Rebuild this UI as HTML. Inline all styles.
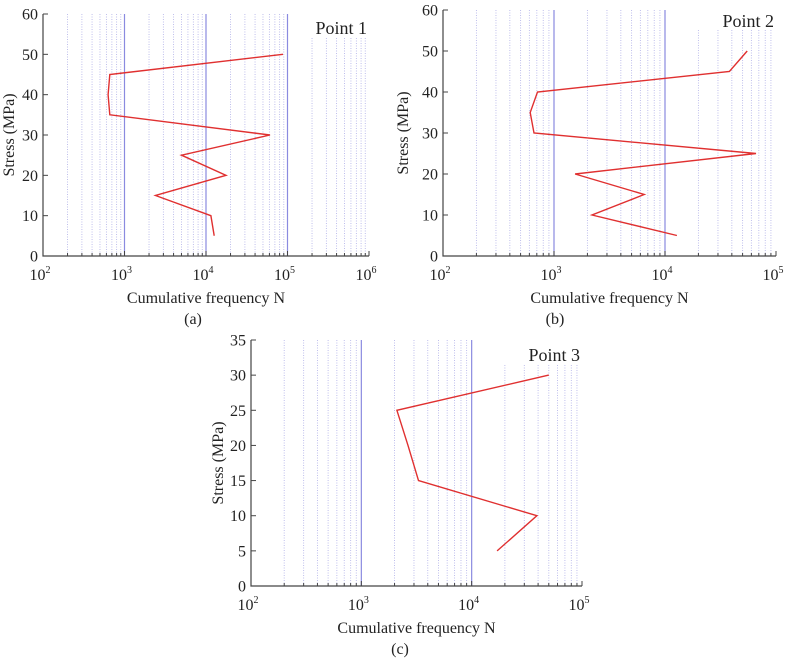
<!DOCTYPE html>
<html><head><meta charset="utf-8"><style>
body{margin:0;background:#fff;}
svg text{font-family:"Liberation Serif",serif;fill:#222;}
</style></head><body>
<svg id="fig" width="788" height="659" xmlns="http://www.w3.org/2000/svg"></svg>
<script>
// Data
const stressA = [50,45,40,35,30,25,20,15,10,5];
const cyclesA = [88000,660,630,660,61000,5000,17600,2400,11500,12600];
const stressB = [50,45,40,35,30,25,20,15,10,5];
const cyclesB = [55000,38000,710,610,660,66000,1550,6500,2200,12800];
const stressC = [30,25,20,15,10,5];
const cyclesC = [50000,2100,2650,3300,39000,17000];
const yTicksA = [0,10,20,30,40,50,60];
const yTicksC = [0,5,10,15,20,25,30,35];

const NS="http://www.w3.org/2000/svg";
const svg=document.getElementById('fig');
function mk(tag,attrs,parent){const e=document.createElementNS(NS,tag);for(const k in attrs)e.setAttribute(k,attrs[k]);(parent||svg).appendChild(e);return e;}

function panel(cfg){
  const g=mk('g',{});
  
  
  const {L,R,T,B,dmin,dmax,ymax,yticks,xs,ys,label,labelBase,shortTop,caption}=cfg;
  const sx=v=>L+(Math.log10(v)-dmin)/(dmax-dmin)*(R-L);
  const sy=v=>B-v/ymax*(B-T);
  for(let d=dmin;d<dmax;d++){
    for(let m=1;m<=9;m++){
      const v=m*Math.pow(10,d);const x=sx(v);
      if(m===1){ if(d===dmin) continue;
        const l=mk('line',{x1:x,x2:x,y1:T,y2:B,stroke:'#8a8ae0','stroke-width':1.2},g);
        
        
      } else {
        const top = (d===dmax-1 && x> cfg.shortX) ? shortTop : T;
        const l=mk('line',{x1:x,x2:x,y1:top,y2:B,stroke:'#b8b8ea','stroke-width':0.9,'stroke-dasharray':'1,1.5'},g);
        
        
      }
      mk('line',{x1:x,x2:x,y1:B,y2:B-(m===1?5:3),stroke:'#444'},g);
    }
  }
  const ax=mk('path',{d:`M${L},${T} L${L},${B} L${R},${B}`,fill:'none',stroke:'#444','stroke-width':1.2},g);
  
  
  mk('line',{x1:R,x2:R,y1:B,y2:B-5,stroke:'#444'},g);
  yticks.forEach(v=>{
    const y=sy(v);
    mk('line',{x1:L,x2:L+5,y1:y,y2:y,stroke:'#444'},g);
    const t=mk('text',{x:L-5,y:y+5.5,'text-anchor':'end','font-size':16},g);
    t.textContent=v;
    
    
  });
  for(let d=dmin;d<=dmax;d++){
    const x=sx(Math.pow(10,d));
    const t=mk('text',{x:x-3,y:B+24,'text-anchor':'middle','font-size':16},g);
    t.innerHTML='10<tspan dy="-7" font-size="10">'+d+'</tspan>';
    
    
  }
  const xt=mk('text',{x:(L+R)/2,y:B+47,'text-anchor':'middle','font-size':16},g);
  xt.textContent='Cumulative frequency N';
  
  
  const ty=(T+B)/2;
  const yt=mk('text',{x:cfg.ytx,y:ty,'text-anchor':'middle','font-size':16,transform:`rotate(-90 ${cfg.ytx} ${ty})`},g);
  yt.textContent='Stress (MPa)';
  
  
  const pl=mk('text',{x:R-2,y:labelBase,'text-anchor':'end','font-size':18},g);
  pl.textContent=label;
  
  
  const cp=mk('text',{x:cfg.capX,y:cfg.capY,'text-anchor':'middle','font-size':16},g);
  cp.textContent=caption;
  
  
  const pts=xs.map((v,i)=>sx(v).toFixed(1)+','+sy(ys[i]).toFixed(1)).join(' ');
  const line=mk('polyline',{points:pts,fill:'none',stroke:'#e03030','stroke-width':1.4},g);
  
  
}
panel({name:'chart-a',L:43,R:369,T:14,B:256,dmin:2,dmax:6,ymax:60,yticks:yTicksA,xs:cyclesA,ys:stressA,label:'Point  1',labelBase:34,shortTop:38,shortX:288,ytx:14,caption:'(a)',capX:193,capY:324});
panel({name:'chart-b',L:443,R:776,T:10,B:256,dmin:2,dmax:5,ymax:60,yticks:yTicksA,xs:cyclesB,ys:stressB,label:'Point 2',labelBase:27,shortTop:30,shortX:667,ytx:408,caption:'(b)',capX:555,capY:324});
panel({name:'chart-c',L:251,R:582,T:340,B:586,dmin:2,dmax:5,ymax:35,yticks:yTicksC,xs:cyclesC,ys:stressC,label:'Point 3',labelBase:361,shortTop:365,shortX:473,ytx:223,caption:'(c)',capX:400,capY:654});
</script>
</body></html>
